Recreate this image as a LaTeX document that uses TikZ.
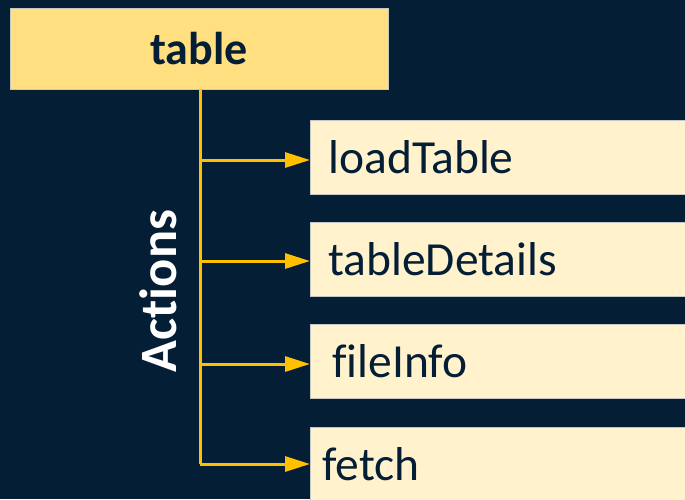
\documentclass[tikz,border=0pt]{standalone}
\usepackage{fontspec}
\setmainfont[Ligatures=NoCommon]{Carlito}
\usetikzlibrary{arrows.meta}
\definecolor{navy}{HTML}{041E35}
\definecolor{gold}{HTML}{FFC000}
\definecolor{headfill}{HTML}{FFDF80}
\definecolor{itemfill}{HTML}{FFF2CC}
\tikzset{head/.style={fill=headfill, draw=gray!45, line width=0.8pt, minimum width=378pt, minimum height=81pt, text=navy, font=\fontsize{46}{50}\selectfont\bfseries}}
\tikzset{item/.style={anchor=west, fill=itemfill, draw=gray!45, line width=0.8pt, minimum height=74pt, text width=400pt, inner xsep=18pt, text=navy, font=\fontsize{47.5}{52}\selectfont}}
\tikzset{arrow/.style={-{Triangle[length=25pt, width=15pt]}, gold, line width=3pt}}

\begin{document}
\begin{tikzpicture}[x=1pt, y=-1pt]
  \fill[navy] (0,0) rectangle (685,499);
  \clip (0,0) rectangle (685,499);

  \node[head] (tbl) at (199,48.5) {table};

  \node[item] (load) at (310,157) {loadTable};
  \node[item] (details) at (310,259) {tableDetails};
  \node[item, inner xsep=22pt] (info) at (310,361) {fileInfo};
  \node[item, inner xsep=12pt] (fetch) at (310,464) {fetch};

  \coordinate (trunk) at (200,464);
  \draw[gold, line width=3pt] (tbl.south -| trunk) -- (trunk);

  \draw[arrow] (trunk |- 0,160) -- (load.west |- 0,160);
  \draw[arrow] (trunk |- 0,261) -- (details.west |- 0,261);
  \draw[arrow] (trunk |- 0,364) -- (info.west |- 0,364);
  \draw[arrow] (trunk) -- (fetch.west |- trunk);

  \node[rotate=90, text=white, font=\fontsize{52.5}{56}\selectfont\bfseries] (act) at (158,291) {Actions};
\end{tikzpicture}
\end{document}
